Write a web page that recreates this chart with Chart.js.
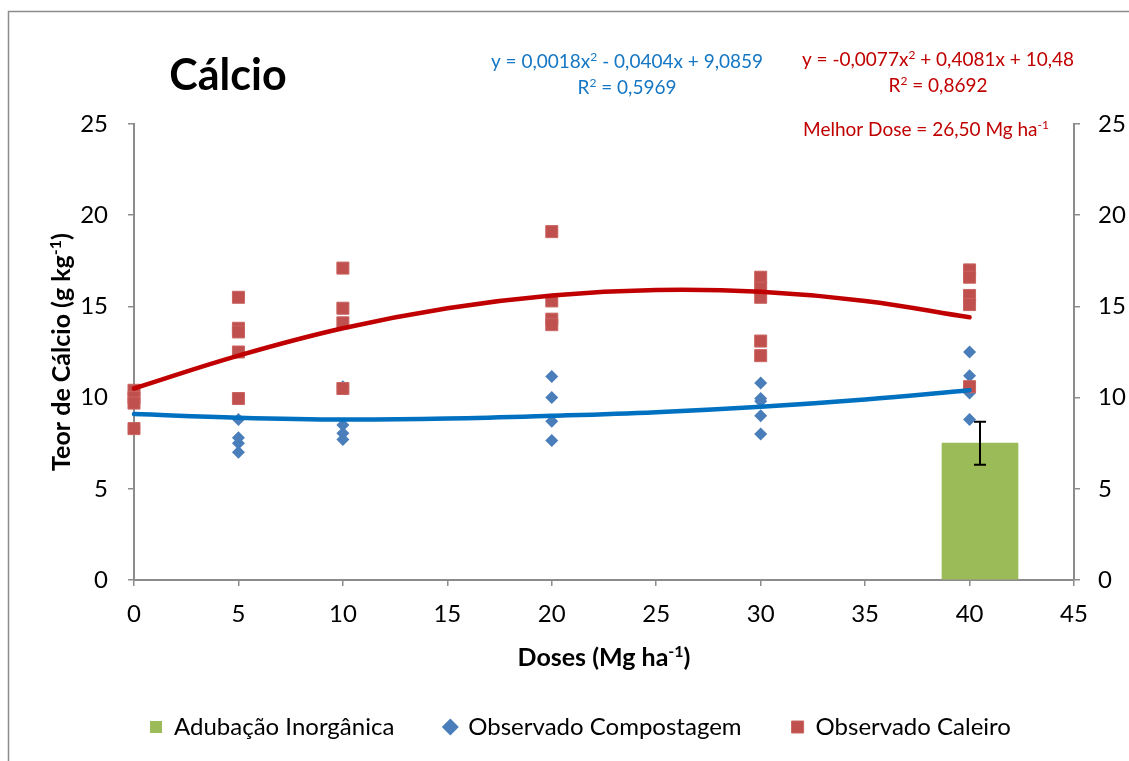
<!DOCTYPE html>
<html>
<head>
<meta charset="utf-8">
<script src="https://cdn.jsdelivr.net/npm/chart.js@4.4.1/dist/chart.umd.min.js"></script>
<style>
    html, body { margin: 0; padding: 0; background: #fff; }
    #wrap { width: 1129px; height: 761px; position: relative; }
</style>
</head>
<body>
<div id="wrap"><canvas id="c" width="1129" height="761"></canvas></div>
<script>
// doses (Mg ha-1) where samples were taken
const doses = [0, 5, 10, 20, 30, 40];

// observed values, one list per dose (g kg-1)
const compostagem = [
    [8.3, 9.8, 10.2],
    [8.8, 7.8, 7.5, 7.0],
    [10.6, 8.5, 8.05, 7.7],
    [11.15, 10.0, 8.7, 7.65],
    [10.8, 9.95, 9.8, 9.0, 8.0],
    [12.5, 11.2, 10.25, 8.8]
];
const caleiro = [
    [10.4, 10.0, 9.7, 8.3],
    [15.5, 13.8, 13.6, 12.5, 9.95],
    [17.1, 14.9, 14.1, 10.5],
    [19.1, 15.3, 14.3, 14.0],
    [16.6, 16.0, 15.5, 13.1, 12.3],
    [17.0, 16.6, 15.6, 15.1, 10.6]
];

// trend curves
const curveX = [0, 5, 10, 15, 20, 25, 30, 35, 40];
const curveCompostagem = [9.1, 8.9, 8.8, 8.85, 9.0, 9.2, 9.5, 9.9, 10.4];
const curveCaleiro = [10.5, 12.3, 13.8, 14.9, 15.6, 15.9, 15.8, 15.3, 14.4];

// inorganic fertilisation bar
const barX = 40.5;
const inorganica = 7.5;
const inorganicaErr = 1.18;

const xTicks = [0, 45, 5];   // min, max, step
const yTicks = [0, 25, 5];

const F = "Lato";

function points(list) {
    const out = [];
    list.forEach(function (vals, i) {
        vals.forEach(function (v) { out.push({ x: doses[i], y: v }); });
    });
    return out;
}
function curve(ys) {
    return curveX.map(function (x, i) { return { x: x, y: ys[i] }; });
}

// draws text with superscript parts: parts = [[text, isSup], ...]
function drawRich(ctx, parts, x, y, size, bold, color, align) {
    const w = bold ? "bold " : "";
    const main = w + size + "px " + F;
    const sup = w + Math.round(size * 0.62) + "px " + F;
    let total = 0;
    parts.forEach(function (p) {
        ctx.font = p[1] ? sup : main;
        total += ctx.measureText(p[0]).width;
    });
    let cx = align === "left" ? x : x - total / 2;
    ctx.fillStyle = color;
    ctx.textBaseline = "alphabetic";
    ctx.textAlign = "left";
    parts.forEach(function (p) {
        ctx.font = p[1] ? sup : main;
        ctx.fillText(p[0], cx, p[1] ? y - size * 0.38 : y);
        cx += ctx.measureText(p[0]).width;
    });
}

const decorPlugin = {
    id: "decor",
    afterDatasetDraw(chart, args) {
        if (args.index !== 0) return;
        const ctx = chart.ctx;
        const xs = chart.scales.x, ys = chart.scales.y;
        const px = xs.getPixelForValue(barX);
        const top = ys.getPixelForValue(inorganica + inorganicaErr);
        const bot = ys.getPixelForValue(inorganica - inorganicaErr);
        ctx.save();
        ctx.strokeStyle = "#000";
        ctx.lineWidth = 2;
        ctx.beginPath();
        ctx.moveTo(px, top); ctx.lineTo(px, bot);
        ctx.moveTo(px - 6, top); ctx.lineTo(px + 6, top);
        ctx.moveTo(px - 6, bot); ctx.lineTo(px + 6, bot);
        ctx.stroke();
        ctx.restore();
    },
    afterDraw(chart) {
        const ctx = chart.ctx;
        ctx.save();
        // outer frame
        ctx.strokeStyle = "#8c8c8c";
        ctx.lineWidth = 1.5;
        ctx.strokeRect(8.5, 11.5, 2000, 2000);

        ctx.fillStyle = "#000";
        ctx.font = "bold 43px " + F;
        ctx.textAlign = "center";
        ctx.textBaseline = "middle";
        ctx.fillText("Cálcio", 228, 76);

        const blue = "#1577C4", red = "#C00000";
        drawRich(ctx, [["y = 0,0018x", false], ["2", true], [" - 0,0404x + 9,0859", false]], 627, 68, 19, false, blue, "center");
        drawRich(ctx, [["R", false], ["2", true], [" = 0,5969", false]], 627, 94, 19, false, blue, "center");
        drawRich(ctx, [["y = -0,0077x", false], ["2", true], [" + 0,4081x + 10,48", false]], 938, 66, 19, false, red, "center");
        drawRich(ctx, [["R", false], ["2", true], [" = 0,8692", false]], 938, 92, 19, false, red, "center");
        drawRich(ctx, [["Melhor Dose = 26,50 Mg ha", false], ["-1", true]], 926, 136, 19, false, red, "center");

        drawRich(ctx, [["Doses (Mg ha", false], ["-1", true], [")", false]], 604, 666, 25, true, "#000", "center");

        ctx.translate(70, 352);
        ctx.rotate(-Math.PI / 2);
        drawRich(ctx, [["Teor de Cálcio (g kg", false], ["-1", true], [")", false]], 0, 0, 25, true, "#000", "center");
        ctx.restore();
    }
};

function axisOpts(pos, pad) {
    return {
        type: "linear",
        position: pos,
        min: yTicks[0], max: yTicks[1],
        ticks: { stepSize: yTicks[2], color: "#000", font: { family: F, size: 24 }, padding: pad },
        grid: { drawOnChartArea: false, drawTicks: true, tickLength: 6, color: "#8c8c8c", lineWidth: 1.5 },
        border: { color: "#8c8c8c", width: 2 }
    };
}

const yLeft = axisOpts("left", 20);
yLeft.afterFit = function (s) { s.width = 102; };
const yRight = axisOpts("right", 18);
yRight.afterFit = function (s) { s.width = 55; };

function build() {
    new Chart(document.getElementById("c"), {
        type: "scatter",
        data: {
            datasets: [
                {
                    type: "bar",
                    label: "Adubação Inorgânica",
                    data: [{ x: barX, y: inorganica }],
                    backgroundColor: "#9BBB59",
                    barThickness: 76,
                    pointStyle: "rect",
                    order: 4
                },
                {
                    label: "Observado Compostagem",
                    data: points(compostagem),
                    pointStyle: "rectRot",
                    pointRadius: 6.5,
                    pointBackgroundColor: "#4A7EBB",
                    pointBorderWidth: 0,
                    backgroundColor: "#4A7EBB",
                    clip: false,
                    order: 3
                },
                {
                    label: "Observado Caleiro",
                    data: points(caleiro),
                    pointStyle: "rect",
                    pointRadius: 8.5,
                    pointBackgroundColor: "#C0504D",
                    pointBorderColor: "#C96461",
                    pointBorderWidth: 1,
                    backgroundColor: "#C0504D",
                    clip: false,
                    order: 2
                },
                {
                    type: "line",
                    label: "trend compostagem",
                    data: curve(curveCompostagem),
                    borderColor: "#0070C0",
                    borderWidth: 4.5,
                    borderCapStyle: "round",
                    pointRadius: 0,
                    tension: 0.4,
                    fill: false,
                    clip: false,
                    order: 1
                },
                {
                    type: "line",
                    label: "trend caleiro",
                    data: curve(curveCaleiro),
                    borderColor: "#C00000",
                    borderWidth: 4.5,
                    borderCapStyle: "round",
                    pointRadius: 0,
                    tension: 0.4,
                    fill: false,
                    clip: false,
                    order: 0
                }
            ]
        },
        options: {
            responsive: false,
            devicePixelRatio: 1,
            animation: false,
            layout: { padding: { left: 32, right: 0, top: 124, bottom: 12 } },
            scales: {
                x: {
                    type: "linear",
                    position: "bottom",
                    min: xTicks[0], max: xTicks[1],
                    offset: false,
                    ticks: { stepSize: xTicks[2], color: "#000", font: { family: F, size: 24 }, padding: 14, maxRotation: 0 },
                    grid: { drawOnChartArea: false, drawTicks: true, tickLength: 6, color: "#8c8c8c", lineWidth: 1.5, offset: false },
                    border: { color: "#8c8c8c", width: 2 },
                    afterFit: function (s) { s.height = 85; }
                },
                y: yLeft,
                y2: yRight
            },
            plugins: {
                tooltip: { enabled: false },
                legend: {
                    position: "bottom",
                    labels: {
                        usePointStyle: true,
                        boxWidth: 12,
                        boxHeight: 12,
                        padding: 50,
                        color: "#000",
                        font: { family: F, size: 24 },
                        filter: function (item) { return item.datasetIndex < 3; },
                        sort: function (a, b) { return a.datasetIndex - b.datasetIndex; }
                    }
                }
            }
        },
        plugins: [decorPlugin]
    });
}

if (document.fonts && document.fonts.load) {
    Promise.all([document.fonts.load("24px Lato"), document.fonts.load("bold 24px Lato")]).then(build, build);
} else {
    build();
}
</script>
</body>
</html>
